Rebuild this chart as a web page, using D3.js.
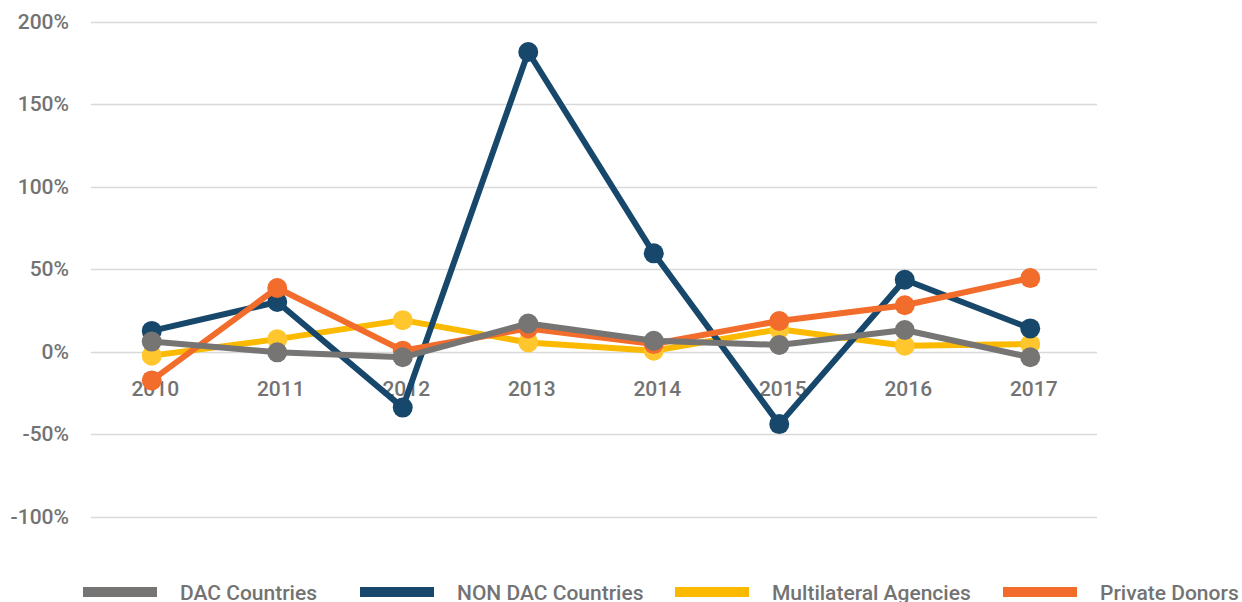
<!DOCTYPE html>
<html>
<head>
<meta charset="utf-8">
<script src="https://cdn.jsdelivr.net/npm/d3@7"></script>
<style>
  html, body { margin: 0; padding: 0; background: #fff; }
  svg { display: block; font-family: Roboto, "Noto Sans", sans-serif; }
</style>
</head>
<body>
<div id="chart"></div>
<script>
// Jahre + Serien (Veränderung in % gegenüber Vorjahr)
const years = ["2010", "2011", "2012", "2013", "2014", "2015", "2016", "2017"];
const dacCountries    = [6, -0.5, -3.5, 17, 6.5, 4, 13, -3.5];
const nonDacCountries = [12.5, 30, -34, 181.5, 59.5, -44, 43.5, 14];
const multilateral    = [-2.5, 7.5, 19, 5.5, 0.5, 13.5, 3.5, 4.5];
const privateDonors   = [-17.5, 38.5, 0.5, 14, 4.5, 18.5, 28, 44.5];
const yTicks = [-100, -50, 0, 50, 100, 150, 200];

const series = [
  { name: "Multilateral Agencies", values: multilateral, line: "#fbb900", dot: "#ffc62e" },
  { name: "NON DAC Countries", values: nonDacCountries, line: "#17486c", dot: "#17486c" },
  { name: "Private Donors", values: privateDonors, line: "#f26c2b", dot: "#f26c2b" },
  { name: "DAC Countries", values: dacCountries, line: "#767574", dot: "#767574" }
];
const legendOrder = ["DAC Countries", "NON DAC Countries", "Multilateral Agencies", "Private Donors"];

const W = 1242, H = 602;
const CFG = {
  gridL: 91, gridR: 1097, txt: "#737373", grid: "#d9d9d9",
  fs: 21, legX: [83, 360, 675, 1003]
};

const svg = d3.select("#chart").append("svg").attr("width", W).attr("height", H);

const x = d3.scalePoint().domain(years).range([89, 1093]).padding(0.5);
const y = d3.scaleLinear().domain([-100, 200]).range([516.5, 21.5]);

// Gitterlinien
svg.append("g").selectAll("line").data(yTicks).join("line")
  .attr("x1", CFG.gridL).attr("x2", CFG.gridR)
  .attr("y1", d => Math.round(y(d)) + 0.5).attr("y2", d => Math.round(y(d)) + 0.5)
  .attr("stroke", CFG.grid).attr("stroke-width", 1.3);

// Y-Achse
const yAx = svg.append("g").attr("transform", "translate(69,0)")
  .call(d3.axisLeft(y).tickValues(yTicks).tickFormat(d => d + "%").tickSize(0).tickPadding(0));
yAx.select(".domain").remove();
yAx.selectAll("text").attr("fill", CFG.txt).attr("font-size", CFG.fs)
  .attr("font-weight", 500).attr("font-family", "Roboto");

// X-Achse (Labels unter der 0-Linie)
const xAx = svg.append("g").attr("transform", "translate(3,389)")
  .call(d3.axisBottom(x).tickSize(0).tickPadding(0));
xAx.select(".domain").remove();
xAx.selectAll("text").attr("fill", CFG.txt).attr("font-size", CFG.fs)
  .attr("font-weight", 500).attr("font-family", "Roboto").attr("dy", "0.35em");

// Linien + Punkte
const line = d3.line().x((d, i) => x(years[i])).y(d => y(d));
series.forEach(s => {
  const g = svg.append("g");
  g.append("path").datum(s.values)
    .attr("fill", "none").attr("stroke", s.line).attr("stroke-width", 6)
    .attr("stroke-linejoin", "round").attr("d", line);
  g.selectAll("circle").data(s.values).join("circle")
    .attr("cx", (d, i) => x(years[i])).attr("cy", d => y(d))
    .attr("r", 10).attr("fill", s.dot);
});

// Legende
const leg = svg.append("g");
legendOrder.forEach((name, i) => {
  const s = series.find(d => d.name === name);
  const lx = CFG.legX[i];
  leg.append("rect").attr("x", lx).attr("y", 587).attr("width", 74).attr("height", 10).attr("fill", s.line);
  leg.append("text").attr("x", lx + 97).attr("y", 600)
    .attr("fill", CFG.txt).attr("font-size", CFG.fs).attr("font-weight", 500)
    .attr("font-family", "Roboto").text(name);
});
</script>
</body>
</html>
